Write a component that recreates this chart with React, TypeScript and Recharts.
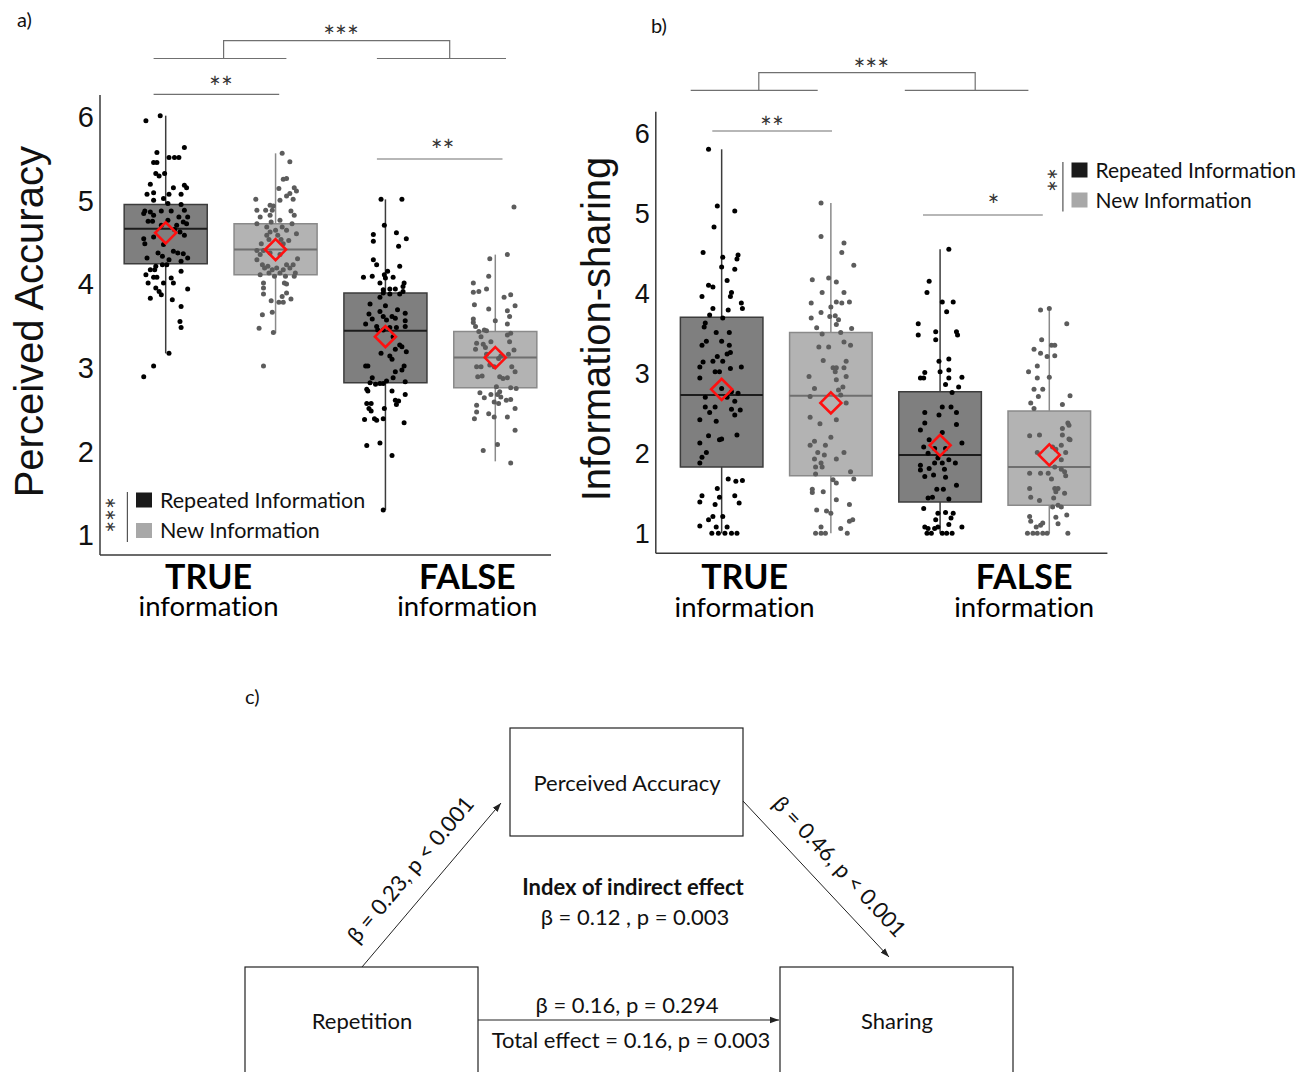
import React from 'react';
import { ScatterChart, Scatter, XAxis, YAxis, ReferenceArea, ReferenceLine } from 'recharts';

type Pt = [number, number]; // [horizontal jitter, rating]

const groupNames = ['TRUE', 'FALSE'];
const groupSub = 'information';
const conditionNames = ['Repeated Information', 'New Information'];

// Perceived accuracy — order: true/repeated, true/new, false/repeated, false/new
const accQ1 = [4.24, 4.11, 2.82, 2.76];
const accMedian = [4.66, 4.41, 3.44, 3.12];
const accQ3 = [4.95, 4.72, 3.89, 3.43];
const accLow = [3.17, 3.41, 1.3, 1.88];
const accHigh = [6.01, 5.56, 5.01, 4.35];
const accMean = [4.61, 4.41, 3.37, 3.12];

// Information sharing — same order
const shareQ1 = [1.83, 1.72, 1.39, 1.35];
const shareMedian = [2.73, 2.72, 1.98, 1.83];
const shareQ3 = [3.7, 3.51, 2.77, 2.53];
const shareLow = [1, 1, 1, 1];
const shareHigh = [5.8, 5.13, 4.55, 3.81];
const shareMean = [2.8, 2.63, 2.1, 1.98];

const accTrueRepeated: Pt[] = [
  [-0.05, 6.01], [-0.18, 5.95], [0.17, 5.63], [-0.08, 5.57], [0.03, 5.51], [0.08, 5.51], [0.12, 5.51], [-0.11, 5.45],
  [-0.08, 5.45], [-0.09, 5.32], [-0.01, 5.32], [-0.06, 5.29], [-0.14, 5.19], [0.07, 5.15], [0.17, 5.18], [0.19, 5.15],
  [-0.11, 5.09], [-0.17, 5.07], [0.03, 5.07], [0.14, 5.07], [-0.02, 5.02], [-0.11, 5.0], [0.02, 4.96], [0.14, 4.95],
  [-0.19, 4.87], [-0.14, 4.86], [-0.04, 4.87], [0.05, 4.87], [-0.2, 4.84], [0.17, 4.88], [-0.11, 4.82], [0.12, 4.8],
  [0.2, 4.8], [-0.16, 4.75], [-0.12, 4.75], [0.02, 4.76], [0.16, 4.74], [0.19, 4.72], [-0.04, 4.7], [0.1, 4.7],
  [0.08, 4.65], [0.13, 4.62], [-0.2, 4.54], [-0.11, 4.56], [0.17, 4.58], [-0.19, 4.48], [-0.02, 4.47], [0.07, 4.39],
  [0.11, 4.37], [0.16, 4.36], [-0.07, 4.37], [-0.03, 4.33], [-0.17, 4.31], [0.03, 4.29], [0.2, 4.31], [0.14, 4.27],
  [0.01, 4.23], [-0.09, 4.21], [-0.03, 4.23], [-0.14, 4.17], [-0.1, 4.17], [0.14, 4.15], [-0.18, 4.11], [-0.11, 4.08],
  [-0.08, 4.08], [0.05, 4.07], [-0.02, 4.01], [0.07, 4.01], [-0.16, 4.01], [-0.09, 3.95], [0.2, 3.94], [-0.06, 3.91],
  [-0.04, 3.87], [-0.14, 3.83], [0.06, 3.81], [0.14, 3.73], [0.13, 3.55], [0.14, 3.48], [0.03, 3.17], [-0.11, 3.02],
  [-0.2, 2.89],
];

const accTrueNew: Pt[] = [
  [0.06, 5.56], [0.13, 5.46], [0.07, 5.25], [0.1, 5.26], [0.03, 5.14], [0.17, 5.15], [0.19, 5.11], [0.13, 5.08],
  [0.1, 5.05], [-0.18, 5.01], [0.04, 5.0], [0.16, 5.01], [-0.05, 4.94], [-0.02, 4.93], [-0.17, 4.88], [-0.09, 4.88],
  [-0.03, 4.88], [0.14, 4.87], [0.17, 4.82], [-0.05, 4.82], [-0.14, 4.8], [0.04, 4.76], [-0.17, 4.72], [-0.04, 4.74],
  [0.15, 4.72], [-0.08, 4.68], [0.06, 4.68], [0, 4.64], [0.1, 4.64], [-0.05, 4.62], [0.19, 4.6], [-0.08, 4.58],
  [0.02, 4.58], [-0.06, 4.53], [0.05, 4.53], [0.12, 4.52], [-0.13, 4.48], [0.07, 4.48], [-0.17, 4.4], [-0.11, 4.4],
  [-0.05, 4.37], [-0.14, 4.35], [0.04, 4.35], [-0.17, 4.29], [0.2, 4.3], [-0.12, 4.23], [-0.07, 4.21], [0.1, 4.23],
  [0.16, 4.23], [-0.1, 4.19], [0.01, 4.19], [-0.03, 4.17], [0.07, 4.17], [0.13, 4.19], [-0.06, 4.13], [0.04, 4.13],
  [0.18, 4.13], [-0.14, 4.11], [-0.01, 4.09], [0.09, 4.09], [0.17, 4.09], [-0.11, 4.01], [0.08, 4.01], [0.1, 4.0],
  [-0.11, 3.95], [-0.11, 3.88], [0.1, 3.89], [0.06, 3.85], [0.14, 3.82], [-0.04, 3.8], [0.03, 3.78], [0.07, 3.78],
  [-0.12, 3.63], [-0.03, 3.66], [-0.15, 3.47], [-0.02, 3.42], [-0.11, 3.02],
];

const accFalseRepeated: Pt[] = [
  [-0.04, 5.01], [0.15, 5.01], [-0.01, 4.7], [-0.11, 4.59], [0.1, 4.61], [-0.11, 4.51], [0.19, 4.54], [0.12, 4.45],
  [-0.11, 4.29], [-0.08, 4.23], [0.13, 4.21], [0.02, 4.15], [-0.01, 4.11], [-0.2, 4.08], [-0.12, 4.09], [0.07, 4.08],
  [-0.05, 4.01], [0.17, 4.01], [0, 4.07], [0.16, 3.97], [-0.02, 3.93], [0.04, 3.94], [0.09, 3.94], [0.16, 3.91],
  [-0.02, 3.89], [0.04, 3.88], [0.13, 3.88], [-0.05, 3.84], [-0.14, 3.76], [0, 3.74], [-0.05, 3.67], [0.11, 3.69],
  [-0.15, 3.64], [0.18, 3.65], [-0.02, 3.61], [0.06, 3.61], [-0.12, 3.58], [0.01, 3.57], [0.09, 3.59], [0.18, 3.56],
  [-0.18, 3.52], [-0.08, 3.49], [0.04, 3.48], [0.1, 3.48], [0.18, 3.49], [-0.07, 3.45], [-0.02, 3.45], [0.07, 3.37],
  [0.13, 3.27], [0.15, 3.25], [0.09, 3.22], [-0.04, 3.17], [0.19, 3.19], [0.04, 3.14], [0.06, 3.1], [-0.18, 3.02],
  [-0.16, 3.02], [0.17, 3.02], [0.09, 2.95], [0.15, 2.97], [-0.12, 2.88], [0.07, 2.88], [-0.14, 2.82], [0.01, 2.84],
  [0.18, 2.83], [-0.09, 2.8], [-0.05, 2.81], [-0.02, 2.81], [-0.17, 2.74], [-0.16, 2.72], [0.06, 2.72], [0.18, 2.68],
  [0.09, 2.61], [0.12, 2.6], [-0.17, 2.57], [-0.13, 2.57], [0.1, 2.56], [-0.15, 2.51], [-0.01, 2.51], [-0.13, 2.48],
  [-0.19, 2.38], [-0.1, 2.39], [-0.08, 2.37], [-0.02, 2.39], [0.17, 2.34], [-0.17, 2.07], [-0.05, 2.1], [0.06, 1.95],
  [-0.02, 1.3],
];

const accFalseNew: Pt[] = [
  [0.17, 4.92], [-0.05, 4.3], [0.11, 4.35], [-0.06, 4.09], [-0.2, 4.01], [-0.2, 3.9], [-0.15, 3.91], [-0.08, 3.94],
  [-0.19, 3.75], [0.14, 3.87], [0.08, 3.84], [0.18, 3.74], [-0.06, 3.7], [0.11, 3.68], [0.13, 3.61], [-0.2, 3.58],
  [0, 3.56], [-0.2, 3.54], [0.11, 3.52], [-0.18, 3.49], [-0.1, 3.45], [-0.15, 3.43], [-0.08, 3.44], [0.14, 3.41],
  [0.11, 3.39], [-0.13, 3.37], [-0.04, 3.31], [0.13, 3.31], [-0.17, 3.29], [-0.11, 3.28], [-0.09, 3.24], [-0.18, 3.22],
  [0.17, 3.21], [-0.08, 3.16], [0.12, 3.16], [0.05, 3.14], [0.03, 3.11], [-0.17, 3.01], [-0.13, 3.01], [-0.05, 3.03],
  [0.15, 3.01], [-0.01, 3.01], [0.18, 2.95], [-0.16, 2.89], [-0.12, 2.9], [0.04, 2.89], [0.07, 2.87], [0.11, 2.88],
  [0.01, 2.77], [0.04, 2.71], [0.14, 2.76], [0.19, 2.75], [-0.14, 2.7], [-0.04, 2.68], [-0.1, 2.64], [0.02, 2.68],
  [0.05, 2.65], [-0.01, 2.59], [0.1, 2.61], [0.14, 2.62], [0.03, 2.57], [-0.17, 2.55], [0.18, 2.51], [-0.17, 2.47],
  [-0.06, 2.45], [-0.01, 2.41], [0.11, 2.41], [-0.19, 2.39], [0.18, 2.25], [0.02, 2.08], [-0.11, 2.01], [0.14, 1.86],
];

const shareTrueRepeated: Pt[] = [
  [-0.12, 5.8], [-0.04, 5.09], [0.12, 5.03], [-0.07, 4.83], [-0.17, 4.51], [0.01, 4.45], [0.15, 4.48], [0.14, 4.43],
  [0, 4.33], [0.12, 4.3], [0.05, 4.16], [-0.12, 4.1], [-0.08, 4.08], [0.09, 4.01], [-0.18, 3.96], [0.08, 3.96],
  [0.18, 3.88], [0.06, 3.79], [-0.08, 3.81], [0.19, 3.81], [-0.11, 3.73], [0.01, 3.69], [-0.15, 3.63], [-0.16, 3.58],
  [-0.05, 3.51], [0.07, 3.51], [-0.14, 3.4], [0, 3.4], [0.07, 3.35], [-0.18, 3.35], [-0.04, 3.21], [0.05, 3.24],
  [0.08, 3.26], [-0.08, 3.15], [-0.17, 3.14], [0.01, 3.15], [0.18, 3.08], [-0.2, 3.08], [0.08, 3.06], [-0.06, 3.02],
  [-0.02, 3.02], [-0.2, 2.94], [0, 2.81], [0.09, 2.77], [-0.15, 2.7], [0.15, 2.75], [0.05, 2.7], [0.12, 2.65],
  [-0.15, 2.58], [-0.06, 2.58], [-0.11, 2.51], [0.17, 2.54], [0.09, 2.55], [0.12, 2.48], [-0.05, 2.4], [-0.2, 2.42],
  [-0.12, 2.22], [-0.02, 2.17], [0.14, 2.23], [0, 2.18], [-0.2, 2.13], [-0.14, 2.01], [-0.18, 1.95], [-0.2, 1.88],
  [0.06, 1.68], [0.13, 1.65], [0.19, 1.66], [-0.04, 1.56], [-0.18, 1.47], [-0.2, 1.39], [-0.02, 1.45], [0.12, 1.47],
  [0.16, 1.38], [-0.06, 1.36], [-0.08, 1.21], [0.01, 1.21], [-0.12, 1.17], [-0.2, 1.09], [-0.05, 1.08], [0.05, 1.08],
  [-0.09, 1], [-0.03, 1], [0.03, 1], [0.09, 1], [0.14, 1],
];

const shareTrueNew: Pt[] = [
  [-0.09, 5.13], [-0.09, 4.71], [0.12, 4.63], [0.1, 4.51], [0.21, 4.35], [-0.17, 4.17], [-0.02, 4.19], [0.05, 4.14],
  [-0.08, 4.01], [0.12, 4.01], [-0.18, 3.88], [0, 3.83], [0.05, 3.89], [0.1, 3.88], [0.17, 3.89], [-0.09, 3.76],
  [-0.01, 3.71], [0.04, 3.72], [0.07, 3.67], [-0.18, 3.69], [-0.13, 3.57], [0.05, 3.61], [0.19, 3.56], [-0.08, 3.49],
  [0.09, 3.51], [-0.11, 3.33], [-0.02, 3.33], [0.12, 3.39], [0.18, 3.35], [-0.07, 3.16], [0.02, 3.07], [0.05, 3.07],
  [0.12, 3.07], [0.04, 3.02], [0.14, 3.15], [-0.2, 2.96], [0.05, 2.92], [0.14, 2.96], [-0.15, 2.81], [0.11, 2.83],
  [0.07, 2.79], [0.09, 2.73], [-0.19, 2.71], [0.14, 2.63], [-0.19, 2.45], [-0.1, 2.37], [0.05, 2.42], [0, 2.2],
  [-0.15, 2.15], [-0.19, 2.1], [-0.05, 2.1], [0.12, 2.01], [-0.12, 2.01], [-0.06, 1.98], [-0.15, 1.93], [-0.09, 1.88],
  [0.05, 1.93], [-0.14, 1.83], [-0.08, 1.83], [0.18, 1.77], [-0.14, 1.74], [0.02, 1.67], [0.21, 1.68], [0.05, 1.63],
  [-0.17, 1.55], [-0.07, 1.52], [-0.17, 1.51], [0.05, 1.42], [-0.13, 1.29], [-0.04, 1.28], [0, 1.25], [0.17, 1.36],
  [-0.09, 1.08], [0.17, 1.15], [0.2, 1.17], [-0.14, 1], [-0.09, 1], [-0.05, 1], [0.09, 1.06], [0.15, 1],
];

const shareFalseRepeated: Pt[] = [
  [0.08, 4.55], [-0.1, 4.15], [-0.12, 4.01], [0.02, 3.89], [0.12, 3.89], [0.06, 3.77], [-0.2, 3.62], [-0.2, 3.48],
  [-0.04, 3.52], [-0.04, 3.42], [0.15, 3.52], [0.16, 3.48], [-0.01, 3.15], [0.08, 3.18], [-0.14, 3.01], [-0.18, 2.94],
  [-0.15, 2.94], [0, 3.02], [0.08, 3.04], [0.08, 2.94], [0.2, 2.95], [0.05, 2.86], [0.17, 2.83], [0.11, 2.76],
  [0.02, 2.58], [0.1, 2.58], [0.15, 2.51], [-0.14, 2.51], [-0.01, 2.48], [-0.14, 2.38], [0.15, 2.36], [-0.18, 2.29],
  [0.02, 2.26], [-0.1, 2.17], [0.2, 2.13], [-0.15, 2.08], [-0.05, 2.06], [0.05, 2.06], [-0.11, 2.0], [-0.02, 1.94],
  [0.08, 1.92], [-0.18, 1.85], [-0.05, 1.88], [0.02, 1.88], [0.14, 1.88], [-0.18, 1.79], [-0.1, 1.81], [0.04, 1.8],
  [-0.14, 1.71], [-0.06, 1.73], [0.05, 1.7], [0.15, 1.6], [-0.03, 1.55], [0.03, 1.55], [-0.11, 1.44], [-0.07, 1.45],
  [0.08, 1.43], [-0.15, 1.31], [-0.02, 1.25], [0.05, 1.26], [0.12, 1.25], [-0.04, 1.17], [0.1, 1.19], [0.08, 1.11],
  [-0.02, 1.08], [-0.14, 1.08], [-0.11, 1.06], [-0.05, 1.06], [0.2, 1.08], [-0.12, 1], [-0.08, 1], [0.02, 1],
  [0.06, 1], [0.11, 1],
];

const shareFalseNew: Pt[] = [
  [-0.08, 3.79], [0, 3.81], [0.16, 3.62], [-0.07, 3.42], [0.02, 3.35], [0.05, 3.35], [-0.14, 3.3], [-0.08, 3.25],
  [-0.02, 3.21], [0.05, 3.22], [-0.11, 3.09], [-0.19, 3.02], [-0.11, 2.94], [0, 2.95], [-0.14, 2.8], [-0.06, 2.8],
  [-0.1, 2.71], [0.19, 2.72], [-0.17, 2.63], [0.12, 2.61], [-0.14, 2.56], [0.17, 2.38], [0.18, 2.35], [0.12, 2.31],
  [-0.09, 2.23], [0.12, 2.23], [0.18, 2.18], [-0.18, 2.22], [0.19, 2.17], [0.11, 2.1], [0.03, 2.08], [0.06, 2.05],
  [-0.11, 2.01], [0.15, 2.01], [0.11, 1.92], [-0.08, 1.75], [-0.01, 1.75], [-0.18, 1.75], [0.05, 1.83], [0.11, 1.8],
  [0.14, 1.77], [0.15, 1.72], [0.02, 1.68], [-0.18, 1.56], [0.05, 1.56], [0.08, 1.56], [0.06, 1.52], [0.14, 1.5],
  [-0.17, 1.45], [-0.09, 1.41], [0.04, 1.44], [0.08, 1.35], [0.11, 1.33], [0.03, 1.33], [-0.18, 1.21], [0.06, 1.2],
  [0.16, 1.23], [-0.17, 1.15], [-0.08, 1.1], [-0.12, 1.08], [-0.06, 1.13], [0.08, 1.12], [-0.2, 1], [-0.15, 1],
  [-0.11, 1], [-0.06, 1], [-0.02, 1], [0.17, 1],
];

const yTicks = [1, 2, 3, 4, 5, 6];

const FONT_UI = 'Lato, "Open Sans", sans-serif';
const FONT_AXIS = '"Liberation Sans", Arial, sans-serif';
const NO_LIGA = { fontVariantLigatures: 'none' as const, fontFeatureSettings: '"liga" 0' };

const REPEATED = { fill: '#7f7f7f', stroke: '#3c3c3c', median: '#1c1c1c', dot: '#000000', key: '#1a1a1a' };
const NEW = { fill: '#b3b3b3', stroke: '#8a8a8a', median: '#6f6f6f', dot: '#5c5c5c', key: '#a8a8a8' };
const look = (i: number) => (i % 2 === 0 ? REPEATED : NEW);

const BOX_HALF = 0.378;

type Stats = { q1: number[]; median: number[]; q3: number[]; low: number[]; high: number[]; mean: number[] };

// Two-line category label under the x axis: bold group name, then "information"
function GroupTick(props: any) {
  const { x, y, payload, index, mainDy, subDy } = props;
  const i = index ?? payload?.index ?? 0;
  return (
    <text x={x} y={y + mainDy} textAnchor="middle" fontFamily={FONT_UI} fill="#000" style={NO_LIGA}>
      <tspan x={x} fontWeight={700} fontSize={34}>{groupNames[i]}</tspan>
      <tspan x={x} dy={subDy - mainDy} fontSize={27.5}>{groupSub}</tspan>
    </text>
  );
}

function Diamond(props: any) {
  const { cx, cy } = props;
  const r = 10.5;
  return (
    <polygon
      points={`${cx},${cy - r} ${cx + r},${cy} ${cx},${cy + r} ${cx - r},${cy}`}
      fill="none"
      stroke="#ff1010"
      strokeWidth={2.6}
    />
  );
}

type PanelProps = {
  left: number;
  margin: { top: number; right: number; bottom: number; left: number };
  xDomain: [number, number];
  yDomain: [number, number];
  stats: Stats;
  points: Pt[][];
  labelAt: number[];
  tickFont: number;
  mainDy: number;
  subDy: number;
};

function BoxPanel({ left, margin, xDomain, yDomain, stats, points, labelAt, tickFont, mainDy, subDy }: PanelProps) {
  const axisLine = { stroke: '#3a3a3a', strokeWidth: 1.5 };
  return (
    <div style={{ position: 'absolute', left, top: 0 }}>
      <ScatterChart width={560} height={640} margin={margin}>
        <XAxis
          type="number"
          dataKey="x"
          domain={xDomain}
          allowDataOverflow
          ticks={labelAt}
          interval={0}
          height={60}
          tickSize={0}
          tickMargin={0}
          tickLine={false}
          axisLine={axisLine}
          tick={(p: any) => <GroupTick {...p} mainDy={mainDy} subDy={subDy} />}
        />
        <YAxis
          type="number"
          dataKey="y"
          domain={yDomain}
          allowDataOverflow
          ticks={yTicks}
          interval={0}
          width={60}
          tickSize={0}
          tickMargin={6}
          tickLine={false}
          axisLine={axisLine}
          tick={{ fill: '#111', fontSize: tickFont, fontFamily: FONT_AXIS }}
        />
        {stats.q1.map((q1, i) => (
          <ReferenceArea
            key={`box-${i}`}
            x1={i + 1 - BOX_HALF}
            x2={i + 1 + BOX_HALF}
            y1={q1}
            y2={stats.q3[i]}
            fill={look(i).fill}
            fillOpacity={1}
            stroke={look(i).stroke}
            strokeWidth={1.5}
          />
        ))}
        {stats.q1.map((q1, i) => (
          <ReferenceLine
            key={`wlo-${i}`}
            segment={[{ x: i + 1, y: stats.low[i] }, { x: i + 1, y: q1 }]}
            stroke={look(i).stroke}
            strokeWidth={1.5}
          />
        ))}
        {stats.q3.map((q3, i) => (
          <ReferenceLine
            key={`whi-${i}`}
            segment={[{ x: i + 1, y: q3 }, { x: i + 1, y: stats.high[i] }]}
            stroke={look(i).stroke}
            strokeWidth={1.5}
          />
        ))}
        {stats.median.map((m, i) => (
          <ReferenceLine
            key={`med-${i}`}
            segment={[{ x: i + 1 - BOX_HALF, y: m }, { x: i + 1 + BOX_HALF, y: m }]}
            stroke={look(i).median}
            strokeWidth={2}
          />
        ))}
        {points.map((pts, i) => (
          <Scatter
            key={`pts-${i}`}
            data={pts.map(([dx, v]) => ({ x: i + 1 + dx, y: v }))}
            isAnimationActive={false}
            shape={(p: any) => <circle cx={p.cx} cy={p.cy} r={2.5} fill={look(i).dot} />}
          />
        ))}
        <Scatter
          data={stats.mean.map((m, i) => ({ x: i + 1, y: m }))}
          isAnimationActive={false}
          shape={(p: any) => <Diamond {...p} />}
        />
      </ScatterChart>
    </div>
  );
}

function Stars({ x, cy, n, size = 28, angle = 0 }: { x: number; cy: number; n: number; size?: number; angle?: number }) {
  return (
    <text
      transform={`translate(${x},${cy}) rotate(${angle})`}
      y={size * 0.55}
      textAnchor="middle"
      fontSize={size}
      fontFamily={FONT_UI}
      fill="#333"
    >
      {'*'.repeat(n)}
    </text>
  );
}

function Legend({ x, top, gap, size, starsX, starsY, stars, barX }: any) {
  return (
    <g>
      <Stars x={starsX} cy={starsY} n={stars} angle={-90} />
      <line x1={barX} y1={top - 0.5} x2={barX} y2={top + gap + 19} stroke="#555" strokeWidth={1.2} />
      {conditionNames.map((name, k) => (
        <g key={name}>
          <rect x={x} y={top + k * gap} width={16} height={15} fill={k === 0 ? REPEATED.key : NEW.key} />
          <text x={x + 24} y={top + k * gap + 15} fontFamily={FONT_UI} fontSize={size} fill="#111">
            {name}
          </text>
        </g>
      ))}
    </g>
  );
}

function Annotations() {
  const br = { stroke: '#707070', strokeWidth: 1.2, fill: 'none' };
  const txt = { fontFamily: FONT_UI, fontSize: 22, fill: '#111', textAnchor: 'middle' as const };
  return (
    <svg width={1307} height={1072} style={{ position: 'absolute', left: 0, top: 0, pointerEvents: 'none' }}>
      <defs>
        <marker id="head" viewBox="0 0 10 10" refX="10" refY="5" markerWidth="9" markerHeight="9" markerUnits="userSpaceOnUse" orient="auto">
          <path d="M0,1.5 L10,5 L0,8.5 z" fill="#222" />
        </marker>
      </defs>

      {/* panel a */}
      <text x={17} y={27} fontFamily={FONT_UI} fontSize={20} fill="#111">a)</text>
      <text transform="translate(43,321.7) rotate(-90)" textAnchor="middle" fontFamily={FONT_AXIS} fontSize={40} fill="#111">
        Perceived Accuracy
      </text>
      <polyline points="223.6,58.5 223.6,40.7 449.7,40.7 449.7,58.5" {...br} />
      <line x1={153.6} y1={58.5} x2={286.4} y2={58.5} {...br} />
      <line x1={376.9} y1={58.5} x2={506} y2={58.5} {...br} />
      <Stars x={341} cy={31.5} n={3} />
      <line x1={153.6} y1={94.3} x2={279.2} y2={94.3} {...br} />
      <Stars x={221} cy={82.7} n={2} />
      <line x1={376.9} y1={159} x2={502.5} y2={159} {...br} />
      <Stars x={442.6} cy={145.7} n={2} />
      <Legend x={136} top={492.5} gap={30.5} size={21.5} starsX={113} starsY={515} stars={3} barX={127.4} />

      {/* panel b */}
      <text x={651} y={33} fontFamily={FONT_UI} fontSize={20} fill="#111">b)</text>
      <text transform="translate(610,329) rotate(-90)" textAnchor="middle" fontFamily={FONT_AXIS} fontSize={40} fill="#111">
        Information-sharing
      </text>
      <polyline points="758.8,90.3 758.8,72.7 975.2,72.7 975.2,90.3" {...br} />
      <line x1={690.7} y1={90.3} x2={817.7} y2={90.3} {...br} />
      <line x1={904.8} y1={90.3} x2={1028.4} y2={90.3} {...br} />
      <Stars x={871.3} cy={64.3} n={3} />
      <line x1={712.3} y1={131} x2={832} y2={131} {...br} />
      <Stars x={772} cy={122.7} n={2} />
      <line x1={923} y1={215} x2={1042.8} y2={215} {...br} />
      <Stars x={993.4} cy={201} n={1} />
      <Legend x={1071.5} top={162.5} gap={30} size={21} starsX={1054.7} starsY={180} stars={2} barX={1062.9} />

      {/* panel c: mediation model */}
      <text x={245} y={704} fontFamily={FONT_UI} fontSize={20} fill="#111">c)</text>
      <rect x={510} y={728} width={233} height={108} fill="none" stroke="#222" strokeWidth={1.2} />
      <rect x={245} y={967} width={233} height={140} fill="none" stroke="#222" strokeWidth={1.2} />
      <rect x={780} y={967} width={233} height={140} fill="none" stroke="#222" strokeWidth={1.2} />
      <line x1={362} y1={967} x2={501} y2={803} stroke="#222" strokeWidth={1} markerEnd="url(#head)" />
      <line x1={743} y1={801} x2={889} y2={957} stroke="#222" strokeWidth={1} markerEnd="url(#head)" />
      <line x1={478} y1={1020} x2={779} y2={1020} stroke="#222" strokeWidth={1} markerEnd="url(#head)" />
      <text x={627} y={791} {...txt}>Perceived Accuracy</text>
      <text x={362} y={1029} {...txt}>Repetition</text>
      <text x={897} y={1029} {...txt}>Sharing</text>
      <text x={633} y={895} {...txt} fontWeight={700}>Index of indirect effect</text>
      <text x={635} y={925} {...txt}>β = 0.12 , p = 0.003</text>
      <text x={627} y={1013} {...txt}>β = 0.16, p = 0.294</text>
      <text x={631} y={1048} {...txt}>Total effect = 0.16, p = 0.003</text>
      <text transform="translate(411,870) rotate(-50)" y={7} {...txt}>β = 0.23, p &lt; 0.001</text>
      <text transform="translate(839,867) rotate(47)" y={7} {...txt}>β = 0.46, p &lt; 0.001</text>
    </svg>
  );
}

const accStats: Stats = { q1: accQ1, median: accMedian, q3: accQ3, low: accLow, high: accHigh, mean: accMean };
const shareStats: Stats = { q1: shareQ1, median: shareMedian, q3: shareQ3, low: shareLow, high: shareHigh, mean: shareMean };

export default function App() {
  return (
    <div style={{ position: 'absolute', left: 0, top: 0, width: 1307, height: 1072, background: '#fff', overflow: 'hidden' }}>
      <BoxPanel
        left={0}
        margin={{ top: 95, right: 9, bottom: 25, left: 40 }}
        xDomain={[0.402, 4.507]}
        yDomain={[0.761, 6.257]}
        stats={accStats}
        points={[accTrueRepeated, accTrueNew, accFalseRepeated, accFalseNew]}
        labelAt={[1.39, 3.745]}
        tickFont={29}
        mainDy={34}
        subDy={61}
      />
      <BoxPanel
        left={560}
        margin={{ top: 111.7, right: 12.6, bottom: 26.7, left: 35.8 }}
        xDomain={[0.397, 4.532]}
        yDomain={[0.75, 6.27]}
        stats={shareStats}
        points={[shareTrueRepeated, shareTrueNew, shareFalseRepeated, shareFalseNew]}
        labelAt={[1.21, 3.77]}
        tickFont={27}
        mainDy={35.7}
        subDy={63.7}
      />
      <Annotations />
    </div>
  );
}
